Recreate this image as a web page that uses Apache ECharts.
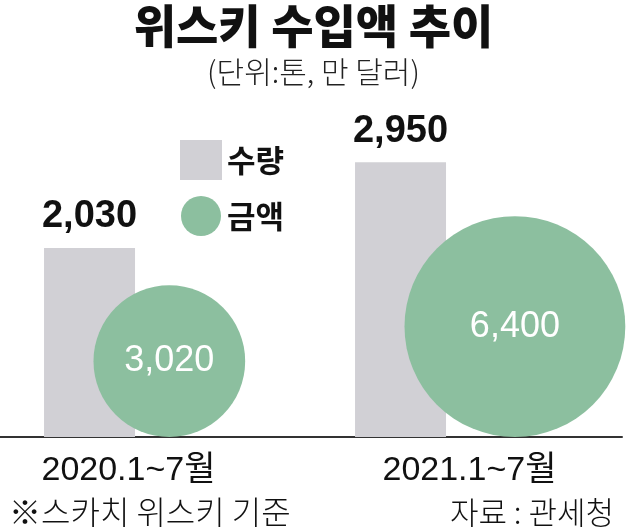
<!DOCTYPE html>
<html><head><meta charset="utf-8">
<script src="https://cdn.jsdelivr.net/npm/echarts@6/dist/echarts.min.js"></script>
<style>html,body{margin:0;padding:0;background:#fff}#c{width:627px;height:531px}</style>
</head><body><div id="c"></div>
<script>
const categories = ['2020.1~7월', '2021.1~7월'];
const volume = [2030, 2950];      // 수량 (톤)
const amount = [3020, 6400];      // 금액 (만 달러)
const legendNames = ['수량', '금액'];

const K = 2.76; // circle diameter per sqrt(value)
const numFont = "'Liberation Sans', Arial, sans-serif";
const krFont = "'Noto Sans CJK KR', 'Noto Sans', sans-serif";

const chart = echarts.init(document.getElementById('c'));
chart.setOption({
  animation: false,
  backgroundColor: '#fff',
  title: [
    { text: '위스키 수입액 추이', subtext: '(단위:톤, 만 달러)', left: 'center', top: -2, itemGap: 8,
      textStyle: { fontFamily: krFont, fontSize: 46, fontWeight: 900, color: '#111' },
      subtextStyle: { fontFamily: krFont, fontSize: 30, fontWeight: 300, color: '#222' } },
    { text: '※스카치 위스키 기준', left: 4, bottom: -2,
      textStyle: { fontFamily: krFont, fontSize: 32, fontWeight: 300, color: '#111' } },
    { text: '자료 : 관세청', right: 8, bottom: -2,
      textStyle: { fontFamily: krFont, fontSize: 31, fontWeight: 300, color: '#111' } }
  ],
  legend: {
    orient: 'vertical', left: 175, top: 135, itemWidth: 42, itemHeight: 40, itemGap: 16, itemTextGap: 8,
    data: [{ name: legendNames[0], icon: 'rect' }, { name: legendNames[1], icon: 'circle' }],
    textStyle: { fontFamily: krFont, fontSize: 31, fontWeight: 'bold', color: '#111' }
  },
  grid: { left: 0, width: 622, top: 64.6, bottom: 94, containLabel: false },
  xAxis: {
    type: 'category',
    data: categories.map((c, i) => ({ value: c, textStyle: { padding: i === 0 ? [0, 54, 0, 0] : [0, 0, 0, 6] } })),
    axisLine: { lineStyle: { color: '#333', width: 2 } },
    axisTick: { show: false },
    axisLabel: { margin: 17, fontFamily: numFont + ", 'Noto Sans CJK KR'", fontSize: 34, color: '#111' }
  },
  yAxis: { type: 'value', min: 0, max: 4000, show: false, splitLine: { show: false } },
  series: [
    { name: legendNames[0], type: 'bar', data: volume, barWidth: 91, barGap: '45%',
      itemStyle: { color: '#d1d0d5' },
      label: { show: true, position: 'top', distance: 12, formatter: p => p.value.toLocaleString('en-US'),
        fontFamily: numFont, fontSize: 38, fontWeight: 'bold', color: '#111' } },
    { name: 'spacer', type: 'bar', data: volume.map(() => null), barWidth: 91 },
    { name: legendNames[1], type: 'scatter', clip: false, z: 5,
      itemStyle: { color: '#8cbf9f', opacity: 1 },
      data: amount.map((v, i) => {
        const d = K * Math.sqrt(v), r = d / 2;
        return { value: [i, 0], raw: v, symbolSize: d, symbolOffset: [r - 62, -r] };
      }),
      label: { show: true, position: 'inside', formatter: p => p.data.raw.toLocaleString('en-US'),
        fontFamily: numFont, fontSize: 36, color: '#fff' } }
  ]
});
</script></body></html>
